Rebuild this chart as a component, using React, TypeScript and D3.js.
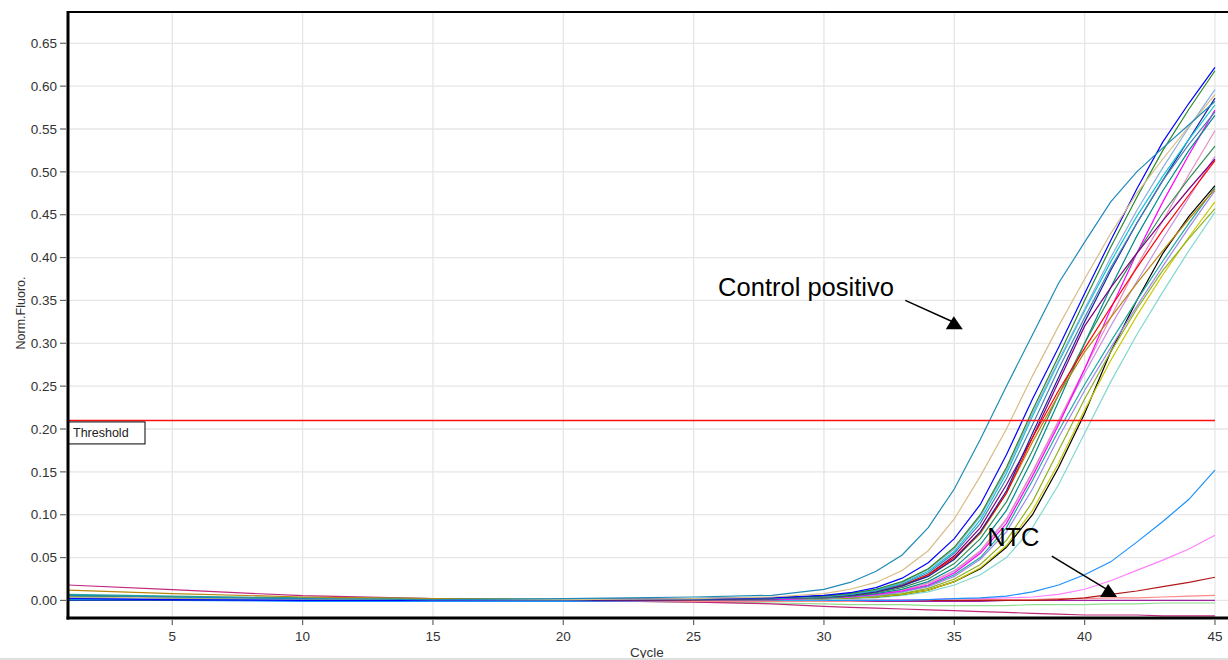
import React from 'react';
import * as d3 from 'd3';

// ciclos en los que se leyó cada curva
const CYCLES = [1, 5, 10, 15, 20, 25, 28, 30, 31, 32, 33, 34, 35, 36, 37, 38, 39, 40, 41, 42, 43, 44, 45];
const X_TICKS = [5, 10, 15, 20, 25, 30, 35, 40, 45];
const Y_TICKS = [0, 0.05, 0.1, 0.15, 0.2, 0.25, 0.3, 0.35, 0.4, 0.45, 0.5, 0.55, 0.6, 0.65];
const THRESHOLD = 0.21;

// curvas de amplificación (Norm. Fluoro.)
const controlPositivo = [0.006, 0.004, 0.002, 0.001, 0.002, 0.004, 0.006, 0.013, 0.021, 0.034, 0.053, 0.085, 0.13, 0.188, 0.25, 0.31, 0.37, 0.418, 0.465, 0.5, 0.528, 0.555, 0.582];
const tan = [0.004, 0.003, 0.002, 0.001, 0.001, 0.002, 0.004, 0.008, 0.013, 0.021, 0.035, 0.058, 0.095, 0.145, 0.2, 0.262, 0.32, 0.375, 0.428, 0.475, 0.515, 0.553, 0.59];
const blue = [0.002, 0.001, 0, 0, 0.001, 0.002, 0.003, 0.006, 0.009, 0.015, 0.026, 0.044, 0.072, 0.112, 0.17, 0.235, 0.295, 0.358, 0.42, 0.48, 0.535, 0.58, 0.622];
const green = [0.005, 0.003, 0.002, 0.001, 0.001, 0.002, 0.003, 0.005, 0.008, 0.013, 0.022, 0.037, 0.062, 0.1, 0.155, 0.222, 0.285, 0.35, 0.412, 0.47, 0.525, 0.573, 0.618];
const steelLight = [0.003, 0.002, 0.001, 0.001, 0.001, 0.002, 0.003, 0.005, 0.008, 0.013, 0.021, 0.036, 0.06, 0.098, 0.152, 0.218, 0.28, 0.34, 0.4, 0.455, 0.505, 0.552, 0.596];
const turquoise = [0.001, 0.001, 0, 0, 0.001, 0.002, 0.003, 0.005, 0.007, 0.012, 0.02, 0.034, 0.057, 0.094, 0.148, 0.215, 0.278, 0.338, 0.395, 0.448, 0.495, 0.538, 0.578];
const navy = [0, 0, 0, 0, 0, 0.001, 0.002, 0.004, 0.006, 0.01, 0.017, 0.028, 0.048, 0.08, 0.128, 0.195, 0.26, 0.325, 0.385, 0.44, 0.49, 0.538, 0.586];
const red = [0.002, 0.001, 0.001, 0, 0, 0.001, 0.003, 0.005, 0.008, 0.012, 0.018, 0.03, 0.05, 0.08, 0.125, 0.19, 0.245, 0.294, 0.342, 0.388, 0.432, 0.473, 0.513];
const goldenrod = [0.012, 0.008, 0.004, 0.002, 0.001, 0.001, 0.002, 0.004, 0.006, 0.01, 0.017, 0.029, 0.048, 0.078, 0.125, 0.185, 0.24, 0.29, 0.33, 0.37, 0.408, 0.445, 0.48];
const purple = [0.001, 0.001, 0, 0, 0, 0.001, 0.002, 0.004, 0.006, 0.01, 0.017, 0.03, 0.052, 0.085, 0.135, 0.19, 0.255, 0.32, 0.365, 0.405, 0.443, 0.48, 0.515];
const darkCyan = [0.004, 0.003, 0.002, 0.001, 0.001, 0.001, 0.002, 0.003, 0.005, 0.008, 0.013, 0.022, 0.038, 0.065, 0.105, 0.165, 0.232, 0.3, 0.365, 0.425, 0.478, 0.525, 0.566];
const magenta = [0.002, 0.001, 0.001, 0, 0, 0.001, 0.001, 0.003, 0.004, 0.007, 0.011, 0.018, 0.032, 0.055, 0.09, 0.145, 0.205, 0.27, 0.34, 0.405, 0.465, 0.52, 0.572];
const pinkLight = [0.003, 0.002, 0.001, 0.001, 0.001, 0.001, 0.002, 0.003, 0.005, 0.007, 0.012, 0.02, 0.035, 0.058, 0.095, 0.15, 0.21, 0.27, 0.33, 0.39, 0.443, 0.497, 0.548];
const orchid = [0.001, 0.001, 0, 0, 0, 0.001, 0.002, 0.003, 0.004, 0.007, 0.012, 0.02, 0.034, 0.057, 0.094, 0.15, 0.208, 0.265, 0.32, 0.372, 0.422, 0.47, 0.518];
const mediumPurple = [0.002, 0.001, 0.001, 0, 0, 0.001, 0.001, 0.002, 0.004, 0.006, 0.01, 0.016, 0.028, 0.048, 0.08, 0.13, 0.19, 0.245, 0.295, 0.343, 0.39, 0.435, 0.478];
const seaGreen = [0.007, 0.005, 0.003, 0.002, 0.001, 0.001, 0.001, 0.003, 0.004, 0.006, 0.01, 0.017, 0.03, 0.05, 0.085, 0.14, 0.198, 0.252, 0.302, 0.35, 0.396, 0.44, 0.482];
const olive = [0.005, 0.004, 0.003, 0.002, 0.001, 0.001, 0.001, 0.002, 0.003, 0.005, 0.008, 0.014, 0.025, 0.042, 0.07, 0.115, 0.175, 0.235, 0.29, 0.34, 0.385, 0.422, 0.457];
const yellow = [0.004, 0.003, 0.002, 0.001, 0.001, 0.001, 0.001, 0.002, 0.003, 0.004, 0.007, 0.012, 0.022, 0.038, 0.064, 0.105, 0.16, 0.222, 0.28, 0.332, 0.38, 0.424, 0.465];
const black = [0, 0, 0, 0, 0, 0, 0.001, 0.002, 0.003, 0.004, 0.007, 0.012, 0.022, 0.037, 0.062, 0.1, 0.155, 0.218, 0.29, 0.35, 0.405, 0.448, 0.484];
const paleTurquoise = [0, 0, 0, 0, 0, 0, 0.001, 0.001, 0.002, 0.003, 0.006, 0.01, 0.018, 0.03, 0.05, 0.085, 0.135, 0.195, 0.255, 0.31, 0.36, 0.408, 0.453];
const steelBlue = [0.003, 0.002, 0.001, 0.001, 0.001, 0.002, 0.002, 0.004, 0.007, 0.011, 0.019, 0.032, 0.055, 0.09, 0.142, 0.205, 0.27, 0.33, 0.388, 0.44, 0.49, 0.532, 0.57];
const tealGreen = [0.006, 0.004, 0.002, 0.001, 0.001, 0.001, 0.002, 0.003, 0.005, 0.009, 0.015, 0.025, 0.043, 0.072, 0.115, 0.175, 0.24, 0.3, 0.355, 0.405, 0.452, 0.492, 0.53];
// curvas bajas / NTC
const dodger = [0, 0, -0.001, -0.001, -0.001, 0, 0, 0, 0, 0, 0, 0.001, 0.002, 0.003, 0.005, 0.01, 0.018, 0.03, 0.045, 0.068, 0.092, 0.118, 0.152];
const violet = [0.001, 0, 0, 0, 0, 0, 0, 0, 0, 0, 0.001, 0.001, 0.002, 0.002, 0.003, 0.004, 0.007, 0.013, 0.023, 0.035, 0.047, 0.06, 0.076];
const darkRed = [0.002, 0.001, 0.001, 0, 0, 0, 0, 0, 0, 0, 0, 0, 0, 0, 0, 0, 0.001, 0.003, 0.007, 0.011, 0.016, 0.021, 0.027];
const coral = [0.003, 0.002, 0.001, 0, 0, -0.001, -0.001, -0.001, -0.001, 0, 0, 0, 0, 0.001, 0.001, 0.001, 0.002, 0.002, 0.003, 0.003, 0.004, 0.005, 0.006];
const purpleFlat = [0.003, 0.002, 0.001, 0, -0.001, -0.001, -0.001, -0.001, -0.001, -0.001, -0.001, -0.001, -0.001, -0.001, 0, 0, 0, 0, 0, 0, 0, 0, 0];
const lightGreen = [0.004, 0.003, 0.002, 0.001, 0, -0.002, -0.003, -0.004, -0.005, -0.005, -0.005, -0.006, -0.006, -0.006, -0.006, -0.005, -0.005, -0.005, -0.004, -0.004, -0.003, -0.003, -0.003];
const violetRed = [0.018, 0.0125, 0.0055, 0.002, 0, -0.002, -0.004, -0.007, -0.008, -0.009, -0.01, -0.011, -0.012, -0.013, -0.014, -0.015, -0.016, -0.017, -0.017, -0.017, -0.018, -0.018, -0.018];

const CURVES = [
  lightGreen, violetRed, purpleFlat, coral, darkRed, violet, dodger,
  paleTurquoise, black, yellow, olive, seaGreen, mediumPurple, orchid, pinkLight, magenta,
  darkCyan, tealGreen, purple, goldenrod, red, navy, steelBlue, turquoise, steelLight, green, blue, tan, controlPositivo,
];
const CURVE_COLORS = [
  '#90dc90', '#c0287c', '#a020a0', '#ff8888', '#b01818', '#ff80ff', '#1e90ff',
  '#80d8d0', '#000000', '#c8c800', '#90b020', '#20a8a0', '#9a8ae8', '#c890e0', '#e88cc0', '#ff00ff',
  '#008b8b', '#2e8b57', '#800080', '#b8860b', '#ff0000', '#2020a0', '#4682b4', '#10c4d4', '#8aaee0', '#2a8a2a', '#0000ff', '#d8bc88', '#1f8ab8',
];

// anotaciones en coordenadas de datos: texto, inicio y fin de flecha
const ANNOTATIONS = [
  { label: 'Control positivo', text: [25.94, 0.3548], from: [33.12, 0.35], to: [34.98, 0.3245] },
  { label: 'NTC', text: [36.26, 0.0634], from: [38.74, 0.0517], to: [40.9, 0.0121] },
];

const W = 1228;
const H = 660;
const FONT = '"Liberation Sans", Arial, sans-serif';

export default function App() {
  const x = d3.scaleLinear().domain([1, 45.5]).range([68, 1228]);
  const y = d3.scaleLinear().domain([-0.0205, 0.6865]).range([618, 12]);
  const line = d3.line<number>()
    .x((_, i) => x(CYCLES[i]))
    .y(d => y(d));
  const fmt = d3.format('.2f');

  return (
    <div style={{ position: 'absolute', left: 0, top: 0 }}>
      <svg width={W} height={H} style={{ display: 'block', background: '#fff' }} fontFamily={FONT}>
        {/* rejilla */}
        {Y_TICKS.map(t => (
          <line key={'gy' + t} x1={x(1)} x2={W} y1={y(t)} y2={y(t)} stroke="#e6e6e6" strokeWidth={1.3} />
        ))}
        {X_TICKS.map(t => (
          <line key={'gx' + t} x1={x(t)} x2={x(t)} y1={y.range()[1]} y2={y.range()[0]} stroke="#e6e6e6" strokeWidth={1.3} />
        ))}

        {/* curvas */}
        {CURVES.map((vals, i) => (
          <path key={i} d={line(vals) ?? ''} fill="none" stroke={CURVE_COLORS[i]} strokeWidth={1.2} />
        ))}

        {/* umbral */}
        <line x1={x(1)} x2={x(45)} y1={y(THRESHOLD)} y2={y(THRESHOLD)} stroke="#ff1010" strokeWidth={1.5} />
        <rect x={x(1)} y={y(THRESHOLD) + 1.5} width={77} height={22} fill="#fff" stroke="#000" strokeWidth={1} />
        <text x={x(1) + 5} y={y(THRESHOLD) + 17} fontSize={12.5} fill="#222">Threshold</text>

        {/* ejes */}
        <line x1={x(1)} x2={W} y1={12} y2={12} stroke="#000" strokeWidth={2} />
        <line x1={x(1)} x2={x(1)} y1={11} y2={619.5} stroke="#000" strokeWidth={3} />
        <line x1={66.5} x2={W} y1={618} y2={618} stroke="#000" strokeWidth={3} />
        {Y_TICKS.map(t => (
          <g key={'ty' + t}>
            <line x1={60} x2={66} y1={y(t)} y2={y(t)} stroke="#666" strokeWidth={1.2} />
            <text x={57} y={y(t)} dy="0.35em" textAnchor="end" fontSize={13.5} fill="#333">{fmt(t)}</text>
          </g>
        ))}
        {X_TICKS.map(t => (
          <g key={'tx' + t}>
            <line x1={x(t)} x2={x(t)} y1={620} y2={625} stroke="#666" strokeWidth={1.2} />
            <text x={x(t)} y={641} textAnchor="middle" fontSize={13.5} fill="#333">{t}</text>
          </g>
        ))}
        <text x={647} y={657} textAnchor="middle" fontSize={13.5} fill="#333">Cycle</text>
        <text transform="translate(20,313) rotate(-90)" textAnchor="middle" dy="0.35em" fontSize={13}
          textLength={73} lengthAdjust="spacingAndGlyphs" fill="#333">Norm.Fluoro.</text>

        {/* anotaciones */}
        {ANNOTATIONS.map(a => {
          const tx = x(a.to[0]);
          const ty = y(a.to[1]);
          return (
            <g key={a.label}>
              <text x={x(a.text[0])} y={y(a.text[1])} fontSize={25.5} fill="#000">{a.label}</text>
              <line x1={x(a.from[0])} y1={y(a.from[1])} x2={tx} y2={ty} stroke="#000" strokeWidth={1.5} />
              <path d={`M${tx - 8},${ty + 7}L${tx + 9},${ty + 7}L${tx},${ty - 6}Z`} fill="#000" />
            </g>
          );
        })}

        <rect x={0} y={658} width={W} height={2} fill="#e0e0e0" />
      </svg>
    </div>
  );
}
